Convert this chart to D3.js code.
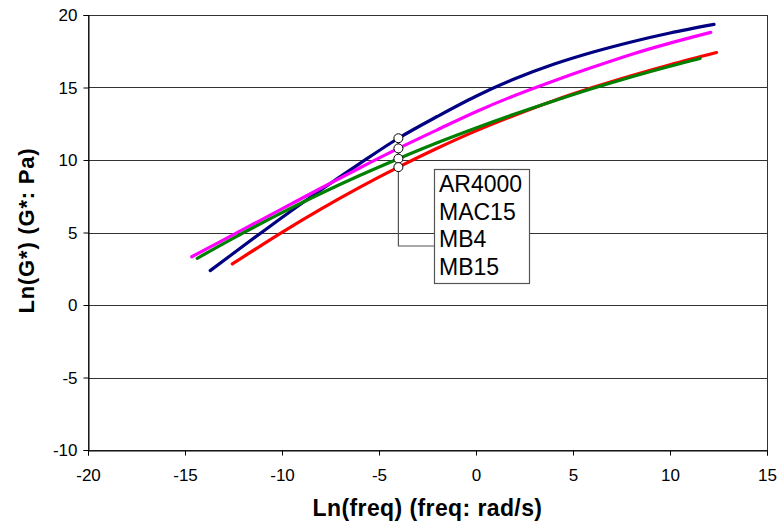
<!DOCTYPE html>
<html><head><meta charset="utf-8">
<script src="https://cdn.jsdelivr.net/npm/d3@7"></script>
<style>body{margin:0;background:#fff}svg{display:block}</style>
</head><body>
<svg id="c" width="781" height="525"></svg>
<script>
const seriesNames = ["AR4000", "MAC15", "MB4", "MB15"];
const seriesColors = ["#000080", "#FF00FF", "#008000", "#FF0000"];
const xTicks = [-20, -15, -10, -5, 0, 5, 10, 15];
const yTicks = [-10, -5, 0, 5, 10, 15, 20];
const ar4000 = [[-13.7,2.37],[-12,4.07],[-10,6.03],[-8,7.93],[-6,9.75],[-4,11.5],[-2,13.0],[0,14.4],[2,15.6],[4,16.6],[6,17.43],[8,18.14],[10,18.76],[12.27,19.35]];
const mac15 = [[-14.65,3.33],[-12,5.21],[-10,6.63],[-8,8.05],[-6,9.45],[-4,10.8],[-2,12.08],[0,13.33],[2,14.45],[4,15.45],[6,16.39],[8,17.28],[10,18.06],[12.1,18.8]];
const mb4 = [[-14.37,3.22],[-12,4.97],[-10,6.37],[-8,7.69],[-6,8.93],[-4,10.09],[-2,11.19],[0,12.21],[2,13.17],[4,14.07],[6,14.93],[8,15.73],[10,16.47],[11.55,17.0]];
const mb15 = [[-12.56,2.83],[-10,5.01],[-8,6.61],[-6,8.11],[-4,9.51],[-2,10.81],[0,12.01],[2,13.09],[4,14.09],[6,14.99],[8,15.81],[10,16.57],[12.4,17.41]];
const allSeries = [ar4000, mac15, mb4, mb15];
const markerX = -4;

const svg = d3.select("#c");
const x = d3.scaleLinear().domain([-20, 15]).range([88, 767]);
const y = d3.scaleLinear().domain([-10, 20]).range([450, 15]);
const F = "Arial, 'Liberation Sans', sans-serif";

// gridlines
svg.append("g").selectAll("line").data(yTicks.filter(t => t > -10 && t < 20)).join("line")
  .attr("x1", x(-20)).attr("x2", x(15))
  .attr("y1", d => Math.round(y(d)) + 0.5).attr("y2", d => Math.round(y(d)) + 0.5)
  .attr("stroke", "#333").attr("stroke-width", 1);
// frame
svg.append("rect").attr("x", Math.round(x(-20)) + 0.5).attr("y", Math.round(y(20)) + 0.5)
  .attr("width", Math.round(x(15)) - Math.round(x(-20))).attr("height", Math.round(y(-10)) - Math.round(y(20)))
  .attr("fill", "none").attr("stroke", "#333");

// axes
const xa = svg.append("g").attr("transform", `translate(0,${Math.round(y(-10)) + 0.5})`)
  .call(d3.axisBottom(x).tickValues(xTicks).tickSize(5).tickPadding(8).tickFormat(d => String(d)));
const ya = svg.append("g").attr("transform", `translate(${Math.round(x(-20)) + 0.5},0)`)
  .call(d3.axisLeft(y).tickValues(yTicks).tickSize(5).tickPadding(6).tickFormat(d => String(d)));
[xa, ya].forEach(a => {
  a.select(".domain").attr("stroke", "#000");
  a.selectAll(".tick line").attr("stroke", "#000");
  a.selectAll(".tick text").attr("font-family", F).attr("font-size", 17).attr("fill", "#000");
});
xa.selectAll(".tick text").attr("dy", "1em");
ya.selectAll(".tick text").attr("dy", "0.35em");

// lines
const line = d3.line().x(d => x(d[0])).y(d => y(d[1])).curve(d3.curveCatmullRom.alpha(0.5));
const order = [0, 1, 3, 2];
order.forEach(i => {
  svg.append("path").attr("d", line(allSeries[i])).attr("fill", "none")
    .attr("stroke", seriesColors[i]).attr("stroke-width", 3.2).attr("stroke-linecap", "round");
});

// legend leader
const markerVals = allSeries.map(s => s.find(p => p[0] === markerX)[1]);
const mx = x(markerX);
const boxX = 434, boxY = 169, boxW = 95, boxH = 114, leadY = 246;
svg.append("path")
  .attr("d", `M${mx},${y(markerVals[0])} V${leadY} H${boxX}`)
  .attr("fill", "none").attr("stroke", "#555").attr("stroke-width", 1.2);
svg.append("g").selectAll("circle").data(markerVals).join("circle")
  .attr("cx", mx).attr("cy", d => y(d)).attr("r", 4.5)
  .attr("fill", "#fff").attr("stroke", "#000").attr("stroke-width", 1);
svg.append("rect").attr("x", boxX + 0.5).attr("y", boxY + 0.5).attr("width", boxW).attr("height", boxH)
  .attr("fill", "#fff").attr("stroke", "#555").attr("stroke-width", 1.2);
svg.append("g").selectAll("text").data(seriesNames).join("text")
  .attr("x", boxX + 5).attr("y", (d, i) => boxY + 23 + i * 27.5)
  .attr("font-family", F).attr("font-size", 23).attr("fill", "#000").text(d => d);

// titles
svg.append("text").attr("x", (x(-20) + x(15)) / 2).attr("y", 516).attr("text-anchor", "middle")
  .attr("font-family", F).attr("font-weight", "bold").attr("font-size", 23).attr("letter-spacing", 0.4)
  .text("Ln(freq) (freq: rad/s)");
svg.append("text").attr("transform", `translate(34,230.5) rotate(-90)`).attr("text-anchor", "middle")
  .attr("font-family", F).attr("font-weight", "bold").attr("font-size", 22).attr("letter-spacing", 0.8)
  .text("Ln(G*) (G*: Pa)");
</script>
</body></html>
